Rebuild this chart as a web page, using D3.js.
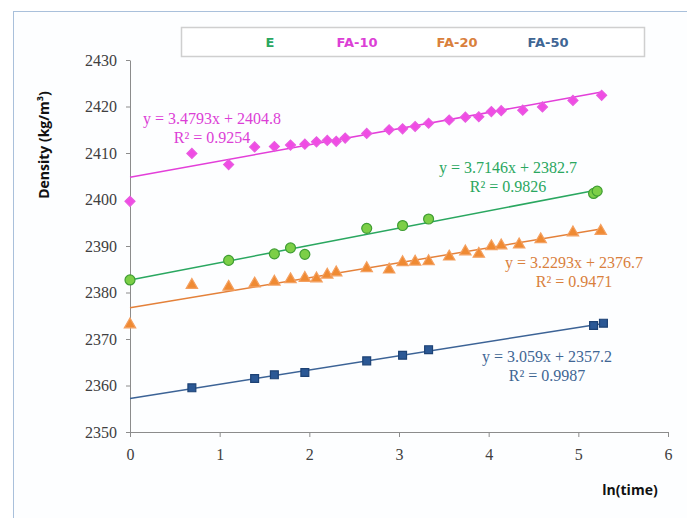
<!DOCTYPE html>
<html>
<head>
<meta charset="utf-8">
<script src="https://cdn.jsdelivr.net/npm/d3@7"></script>
<style>
  body { margin: 0; background: #fff; }
  .tick text { font-family: "Liberation Serif", "Times New Roman", serif; font-size: 16px; fill: #404040; }
  .axis path, .axis line { stroke: #8c8c8c; }
</style>
</head>
<body>
<div id="chart"></div>
<script>
// --- data --- \\
var eX      = [0, 1.10, 1.61, 1.79, 1.95, 2.64, 3.04, 3.33, 5.17, 5.21];
var eY      = [2382.7, 2386.9, 2388.3, 2389.6, 2388.2, 2393.8, 2394.4, 2395.8, 2401.3, 2401.8];

var fa10X   = [0, 0.69, 1.10, 1.39, 1.61, 1.79, 1.95, 2.08, 2.20, 2.30, 2.40, 2.64, 2.89, 3.04, 3.18, 3.33, 3.56, 3.74, 3.89, 4.03, 4.14, 4.38, 4.60, 4.94, 5.26];
var fa10Y   = [2399.6, 2409.9, 2407.5, 2411.3, 2411.4, 2411.7, 2411.9, 2412.4, 2412.7, 2412.5, 2413.2, 2414.2, 2415.0, 2415.2, 2415.7, 2416.4, 2417.1, 2417.7, 2417.8, 2418.9, 2419.1, 2419.2, 2419.9, 2421.3, 2422.4];

var fa20X   = [0, 0.69, 1.10, 1.39, 1.61, 1.79, 1.95, 2.08, 2.20, 2.30, 2.64, 2.89, 3.04, 3.18, 3.33, 3.56, 3.74, 3.89, 4.03, 4.14, 4.34, 4.58, 4.94, 5.25];
var fa20Y   = [2373.1, 2381.6, 2381.2, 2381.9, 2382.3, 2382.8, 2383.1, 2383.0, 2383.8, 2384.3, 2385.2, 2384.9, 2386.5, 2386.6, 2386.7, 2387.7, 2388.8, 2388.3, 2389.9, 2390.1, 2390.3, 2391.4, 2392.9, 2393.2];

var fa50X   = [0.69, 1.39, 1.61, 1.95, 2.64, 3.04, 3.33, 5.17, 5.28];
var fa50Y   = [2359.5, 2361.5, 2362.3, 2362.8, 2365.3, 2366.5, 2367.7, 2372.9, 2373.4];

var seriesNames = ["E", "FA-10", "FA-20", "FA-50"];
var slopes      = [3.7146, 3.4793, 3.2293, 3.059];
var intercepts  = [2382.7, 2404.8, 2376.7, 2357.2];
var r2Values    = ["0.9826", "0.9254", "0.9471", "0.9987"];
var slopeText   = ["3.7146", "3.4793", "3.2293", "3.059"];
var interText   = ["2382.7", "2404.8", "2376.7", "2357.2"];

var xTicks = [0, 1, 2, 3, 4, 5, 6];
var yTicks = [2350, 2360, 2370, 2380, 2390, 2400, 2410, 2420, 2430];

// --- styles --- \\
var styles = [
	{ line: "#2aa760", text: "#2aa760", fill: "#7ccf47", stroke: "#3f9d33", shape: "circle",   lx: 270, ex: 508, ey: 168 }
	, { line: "#e33fd9", text: "#dc3fd6", fill: "#f04ce4", stroke: "#e85ce0", shape: "diamond",  lx: 357, ex: 212, ey: 119 }
	, { line: "#e4813a", text: "#d9803c", fill: "#ef8a33", stroke: "#f4a060", shape: "triangle", lx: 457, ex: 574, ey: 263 }
	, { line: "#3c6396", text: "#3f6694", fill: "#2b5895", stroke: "#1d4275", shape: "square",   lx: 548, ex: 547, ey: 357 }
];

var seriesData = [
	d3.zip(eX, eY), d3.zip(fa10X, fa10Y), d3.zip(fa20X, fa20Y), d3.zip(fa50X, fa50Y)
];

var W = 687, H = 518;
var svg = d3.select("#chart").append("svg").attr("width", W).attr("height", H);

// outer frame
svg.append("rect").attr("x", 13.5).attr("y", 11.5).attr("width", W).attr("height", H)
	.attr("fill", "#fdfeff").attr("stroke", "#a9c0db").attr("stroke-width", 1);

var x = d3.scaleLinear().domain([0, 6]).range([130, 668]);
var y = d3.scaleLinear().domain([2350, 2430]).range([432, 60]);

// axes
svg.append("g").attr("class", "axis").attr("transform", "translate(0,432)")
	.call(d3.axisBottom(x).tickValues(xTicks).tickFormat(d3.format("d")).tickSize(5).tickSizeOuter(0).tickPadding(12));
svg.append("g").attr("class", "axis").attr("transform", "translate(130,0)")
	.call(d3.axisLeft(y).tickValues(yTicks).tickFormat(d3.format("d")).tickSize(4).tickSizeOuter(0).tickPadding(9));

// trend lines
seriesData.forEach(function(d, i) {
	var xMax = d3.max(d, function(p) { return p[0]; });
	svg.append("line")
		.attr("x1", x(0)).attr("y1", y(intercepts[i]))
		.attr("x2", x(xMax)).attr("y2", y(intercepts[i] + slopes[i] * xMax))
		.attr("stroke", styles[i].line).attr("stroke-width", 1.5);
});

// markers (diamond = square turned 45deg)
var symbolType = { circle: d3.symbolCircle, diamond: d3.symbolSquare, triangle: d3.symbolTriangle, square: d3.symbolSquare };
var symbolSize = { circle: 78, diamond: 50, triangle: 56, square: 62 };
var symbolRot  = { circle: 0, diamond: 45, triangle: 0, square: 0 };
seriesData.forEach(function(d, i) {
	var s = styles[i];
	svg.append("g").selectAll("path").data(d).enter().append("path")
		.attr("d", d3.symbol().type(symbolType[s.shape]).size(symbolSize[s.shape]))
		.attr("transform", function(p) { return "translate(" + x(p[0]) + "," + y(p[1]) + ") rotate(" + symbolRot[s.shape] + ")"; })
		.attr("fill", s.fill).attr("stroke", s.stroke).attr("stroke-width", 1.2);
});

// equation labels
seriesData.forEach(function(d, i) {
	var s = styles[i];
	var t = svg.append("text").attr("text-anchor", "middle")
		.attr("font-family", "'Liberation Serif', 'Times New Roman', serif").attr("font-size", 16)
		.attr("fill", s.text);
	t.append("tspan").attr("x", s.ex).attr("y", s.ey + 5).text("y = " + slopeText[i] + "x + " + interText[i]);
	t.append("tspan").attr("x", s.ex).attr("y", s.ey + 24).text("R\u00b2 = " + r2Values[i]);
});

// legend
svg.append("rect").attr("x", 181.5).attr("y", 27.5).attr("width", 463).attr("height", 29)
	.attr("fill", "#fff").attr("stroke", "#cfcfcf").attr("stroke-width", 1.5);
seriesNames.forEach(function(n, i) {
	svg.append("text").attr("x", styles[i].lx).attr("y", 47).attr("text-anchor", "middle")
		.attr("font-family", "'DejaVu Sans', Verdana, sans-serif").attr("font-weight", "bold").attr("font-size", 13)
		.attr("fill", styles[i].text).text(n);
});

// axis titles
svg.append("text").attr("transform", "translate(49,145) rotate(-90)").attr("text-anchor", "middle")
	.attr("font-family", "'Open Sans', 'Noto Sans', sans-serif").attr("font-weight", "bold").attr("font-size", 14)
	.attr("fill", "#111")
	.text("Density (kg/m\u00b3)");
svg.append("text").attr("x", 630).attr("y", 495).attr("text-anchor", "middle")
	.attr("font-family", "'Open Sans', 'Noto Sans', sans-serif").attr("font-weight", "bold").attr("font-size", 14)
	.attr("fill", "#111")
	.text("ln(time)");
</script>
</body>
</html>
